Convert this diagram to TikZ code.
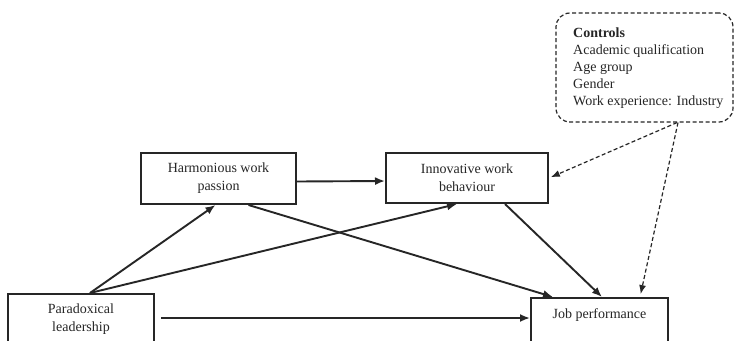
\documentclass[tikz,border=0pt]{standalone}
\usepackage{fontspec}
\setmainfont{Liberation Serif}
\usetikzlibrary{arrows.meta}
\begin{document}
\begin{tikzpicture}[x=1pt,y=-1pt,
  box/.style={draw=black!85,line width=2pt,rectangle,inner sep=0pt,align=center,
    font=\fontsize{14}{18}\selectfont,text=black!85},
  txt/.style={inner sep=0pt,align=center,font=\fontsize{14}{18}\selectfont,text=black!85},
  arr/.style={draw=black!85,line width=1.9pt,-{Latex[length=10pt,width=8pt]}},
  darr/.style={draw=black!85,line width=1.2pt,dash pattern=on 4pt off 2.5pt,-{Latex[length=9pt,width=7pt]}},
  ctrlbox/.style={draw=black!85,line width=1.2pt,dash pattern=on 4pt off 2.5pt,rounded corners=14pt,
    minimum width=177pt,minimum height=109pt,inner sep=0pt}
]
\clip (0,0) rectangle (735,340);
\fill[white] (0,0) rectangle (735,340);

% boxes
\node[box,minimum width=155pt,minimum height=51pt] (hwp) at (218.5,178.5) {Harmonious work\\passion};
\node[box,minimum width=162pt,minimum height=50pt] (iwb) at (467,178) {Innovative work\\behaviour};
\node[box,minimum width=146pt,minimum height=60pt] (pl) at (81,324) {};
\node[txt] (pltxt) at (81,319) {Paradoxical\\leadership};
\node[box,minimum width=137pt,minimum height=60pt] (jp) at (599.5,328) {};
\node[txt] (jptxt) at (599.5,315) {Job performance};

% controls
\node[ctrlbox] (ctrl) at (644.5,67.5) {};
\node[anchor=north west,inner sep=0pt,align=left,font=\fontsize{14}{17}\selectfont,text=black!85] (ctrltxt) at (573,27.5)
  {\textbf{Controls}\\Academic qualification\\Age group\\Gender\\Work experience: Industry};

% arrows
\draw[arr] ([yshift=-3pt]hwp.east) -- ([yshift=-3pt]iwb.west);
\draw[arr] ([xshift=9pt]pl.north) -- ([xshift=-3pt]hwp.south);
\draw[arr] ([xshift=9pt]pl.north) -- ([xshift=-10pt]iwb.south);
\draw[arr] ([xshift=30pt]hwp.south) -- ([xshift=-46.5pt]jp.north);
\draw[arr] ([xshift=38pt]iwb.south) -- ([xshift=2.5pt]jp.north);
\draw[arr,shorten <=6pt] ([yshift=6pt]pl.east) -- ([yshift=6pt]pl.east -| jp.west);

\draw[darr,shorten >=2pt] ([xshift=32.5pt]ctrl.south) -- (iwb.east);
\draw[darr,shorten >=3pt] ([xshift=33.5pt]ctrl.south) -- ([xshift=40.5pt]jp.north);
\end{tikzpicture}
\end{document}
